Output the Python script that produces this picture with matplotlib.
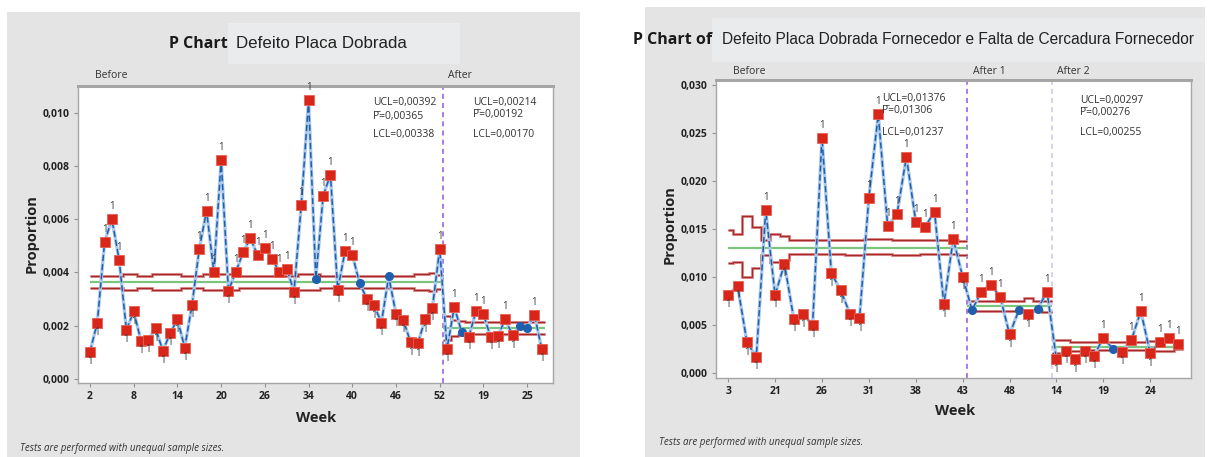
import numpy as np
import matplotlib
matplotlib.use('Agg')
import matplotlib.pyplot as plt
from matplotlib.patches import Rectangle

W, H = 1213, 457

# ---- weekly proportions, left chart ----
left_before = [0.00103, 0.00212, 0.00514, 0.00600, 0.00447, 0.00184, 0.00254, 0.00143, 0.00147, 0.00190,
               0.00106, 0.00172, 0.00224, 0.00118, 0.00278, 0.00489, 0.00632, 0.00401, 0.00822, 0.00332,
               0.00401, 0.00475, 0.00528, 0.00466, 0.00491, 0.00451, 0.00401, 0.00414, 0.00328, 0.00654,
               0.01046, 0.00376, 0.00688, 0.00767, 0.00335, 0.00479, 0.00467, 0.00360, 0.00301, 0.00276,
               0.00212, 0.00385, 0.00244, 0.00222, 0.00138, 0.00134, 0.00224, 0.00268, 0.00489]
left_after = [0.00113, 0.00270, 0.00178, 0.00159, 0.00256, 0.00243, 0.00157, 0.00163, 0.00224, 0.00164,
              0.00199, 0.00191, 0.00242, 0.00113]

# control limits per subgroup (unequal sample sizes)
left_before_ucl = [0.00388, 0.00388, 0.00388, 0.00388, 0.00388, 0.00394, 0.00394, 0.00388, 0.00388, 0.00394,
                   0.00394, 0.00394, 0.00394, 0.00388, 0.00388, 0.00388, 0.00396, 0.00396, 0.00396, 0.00396,
                   0.00396, 0.00388, 0.00388, 0.00388, 0.00388, 0.00388, 0.00388, 0.00388, 0.00388, 0.00394,
                   0.00394, 0.00394, 0.00388, 0.00388, 0.00388, 0.00388, 0.00388, 0.00388, 0.00388, 0.00388,
                   0.00388, 0.00388, 0.00388, 0.00388, 0.00388, 0.00394, 0.00394, 0.00398, 0.00392]
left_before_lcl = [0.00342, 0.00342, 0.00342, 0.00342, 0.00342, 0.00336, 0.00336, 0.00342, 0.00342, 0.00336,
                   0.00336, 0.00336, 0.00336, 0.00342, 0.00342, 0.00342, 0.00334, 0.00334, 0.00334, 0.00334,
                   0.00334, 0.00342, 0.00342, 0.00342, 0.00342, 0.00342, 0.00342, 0.00342, 0.00342, 0.00336,
                   0.00336, 0.00336, 0.00342, 0.00342, 0.00342, 0.00342, 0.00342, 0.00342, 0.00342, 0.00342,
                   0.00342, 0.00342, 0.00342, 0.00342, 0.00342, 0.00336, 0.00336, 0.00332, 0.00338]
left_after_ucl = [0.00237, 0.00222, 0.00218, 0.00214, 0.00214, 0.00214, 0.00214, 0.00214, 0.00214, 0.00214,
                  0.00214, 0.00214, 0.00214, 0.00214]
left_after_lcl = [0.00147, 0.00162, 0.00166, 0.00170, 0.00170, 0.00170, 0.00170, 0.00170, 0.00170, 0.00170,
                  0.00170, 0.00170, 0.00170, 0.00170]

left_stats = {'Before': (0.00392, 0.00365, 0.00338), 'After': (0.00214, 0.00192, 0.00170)}
left_ticks = ['2', '8', '14', '20', '26', '34', '40', '46', '52', '19', '25']
left_yticks = [0.000, 0.002, 0.004, 0.006, 0.008, 0.010]

# ---- weekly proportions, right chart ----
right_before = [0.00816, 0.00913, 0.00323, 0.00173, 0.01700, 0.00816, 0.01139, 0.00566, 0.00614, 0.00503,
                0.02455, 0.01042, 0.00864, 0.00616, 0.00573, 0.01829, 0.02698, 0.01538, 0.01656, 0.02256,
                0.01580, 0.01527, 0.01684, 0.00719, 0.01399, 0.01006]
right_after1 = [0.00659, 0.00850, 0.00923, 0.00798, 0.00406, 0.00659, 0.00614, 0.00670, 0.00850]
right_after2 = [0.00146, 0.00236, 0.00146, 0.00232, 0.00180, 0.00371, 0.00257, 0.00225, 0.00347, 0.00649,
                0.00208, 0.00329, 0.00371, 0.00305]

right_before_ucl = [0.01494, 0.01450, 0.01640, 0.01528, 0.01389, 0.01450, 0.01430, 0.01392, 0.01392, 0.01392,
                    0.01392, 0.01392, 0.01392, 0.01392, 0.01392, 0.01395, 0.01395, 0.01395, 0.01392, 0.01392,
                    0.01392, 0.01392, 0.01392, 0.01392, 0.01392, 0.01376]
right_before_lcl = [0.01152, 0.01160, 0.01007, 0.01094, 0.01232, 0.01160, 0.01180, 0.01243, 0.01243, 0.01243,
                    0.01243, 0.01243, 0.01243, 0.01230, 0.01230, 0.01243, 0.01243, 0.01243, 0.01230, 0.01230,
                    0.01230, 0.01243, 0.01243, 0.01243, 0.01243, 0.01237]
right_after1_ucl = [0.00756, 0.00756, 0.00756, 0.00756, 0.00756, 0.00756, 0.00788, 0.00756, 0.00756]
right_after1_lcl = [0.00648, 0.00648, 0.00648, 0.00648, 0.00648, 0.00648, 0.00648, 0.00648, 0.00636]
right_after2_ucl = [0.00347, 0.00347, 0.00325, 0.00325, 0.00322, 0.00322, 0.00322, 0.00322, 0.00322, 0.00322,
                    0.00335, 0.00335, 0.00335, 0.00297]
right_after2_lcl = [0.00210, 0.00215, 0.00232, 0.00232, 0.00240, 0.00240, 0.00240, 0.00240, 0.00240, 0.00240,
                    0.00236, 0.00236, 0.00236, 0.00255]

right_stats = {'Before': (0.01376, 0.01306, 0.01237), 'After 1': (0.00756, 0.00701, 0.00648),
               'After 2': (0.00297, 0.00276, 0.00255)}
right_ticks = ['3', '21', '26', '31', '38', '43', '48', '14', '19', '24']
right_yticks = [0.000, 0.005, 0.010, 0.015, 0.020, 0.025, 0.030]

RED = '#d8261a'
BLUE = '#1f5fb0'
LIMIT = '#a8282a'
LIMIT_LIGHT = '#e2a0a0'
GREEN = '#7cc47c'
PANEL = '#e4e4e4'
UI = ['Open Sans', 'DejaVu Sans']


def fx(px):
    return px / W


def fy(py):
    return 1 - py / H


def fig_box(fig, x0, y0, x1, y1, color):
    fig.patches.append(Rectangle((fx(x0), fy(y1)), fx(x1) - fx(x0), fy(y0) - fy(y1),
                                 transform=fig.transFigure, facecolor=color,
                                 edgecolor='none', zorder=-5))


def fmt(v, nd):
    return f'{v:.{nd}f}'.replace('.', ',')


def draw_pchart(ax, stages, tick_labels, tick_step, yticks, ydec):
    start = 0
    all_vals = []
    for name, vals, ucl, lcl, stats, split_color in stages:
        n = len(vals)
        idx = np.arange(start, start + n)
        edges = np.arange(n + 1) + start - 0.5
        if start == 0:
            edges[0] = 0
        ax.stairs(ucl, edges, baseline=None, color=LIMIT_LIGHT, lw=2.2, zorder=2)
        ax.stairs(ucl, edges, baseline=None, color=LIMIT, lw=1.0, zorder=2)
        ax.stairs(lcl, edges, baseline=None, color=LIMIT_LIGHT, lw=2.2, zorder=2)
        ax.stairs(lcl, edges, baseline=None, color=LIMIT, lw=1.0, zorder=2)
        ax.hlines(stats[1], edges[0], edges[-1], color=GREEN, lw=1.6, zorder=2)
        if split_color:
            ax.axvline(start - 0.5, color=split_color, lw=1.2, ls=(0, (3, 2.5)), zorder=1)
        all_vals.append((idx, vals, stats))
        start += n

    xs = np.concatenate([a[0] for a in all_vals])
    ys = np.concatenate([a[1] for a in all_vals])
    ax.plot(xs, ys, color='#a9c8ea', lw=2.4, zorder=3)
    ax.plot(xs, ys, color=BLUE, lw=1.1, ls=(0, (4, 2)), zorder=3)

    for idx, vals, (ucl_n, center, lcl_n) in all_vals:
        for i, v in zip(idx, vals):
            if v > ucl_n or v < lcl_n:
                ax.plot(i, v, 's', ms=7, color=RED, mec='#e86050', mew=0.6, zorder=4)
                dy = 5 if v > ucl_n else -11
                ax.annotate('1', (i, v), xytext=(0, dy), textcoords='offset points',
                            ha='center', va='bottom', fontsize=7, color='#3a3a3a',
                            family=UI, zorder=5)
            else:
                ax.plot(i, v, 'o', ms=5.5, color=BLUE, zorder=4)

    ax.set_xticks(np.arange(len(tick_labels)) * tick_step)
    ax.set_xticklabels(tick_labels)
    ax.set_yticks(yticks)
    ax.set_yticklabels([fmt(t, ydec) for t in yticks])
    for lab in ax.get_xticklabels() + ax.get_yticklabels():
        lab.set_family(UI)
        lab.set_fontweight('bold')
    ax.tick_params(length=3, width=0.8, color='#909090', labelsize=7.5,
                   labelcolor='#222222', pad=3)
    for s in ax.spines.values():
        s.set_color('#a6a6a6')
        s.set_linewidth(1.0)
    ax.spines['top'].set_linewidth(2.2)
    ax.set_facecolor('white')
    ax.set_zorder(2)


fig = plt.figure(figsize=(W / 100, H / 100), dpi=100)

# ---------------- left chart ----------------
fig_box(fig, 7, 12, 580, 457, PANEL)
fig_box(fig, 228, 23, 460, 64, '#eaebec')
ax1 = fig.add_axes([fx(78), fy(383), fx(553) - fx(78), fy(86) - fy(383)])
draw_pchart(ax1,
            [('Before', left_before, left_before_ucl, left_before_lcl, left_stats['Before'], None),
             ('After', left_after, left_after_ucl, left_after_lcl, left_stats['After'], '#9a66e0')],
            left_ticks, 6, left_yticks, 3)
ax1.set_xlim(-1.65, 63.55)
ax1.set_ylim(-0.00015, 0.0110)

fig.text(fx(228), fy(44), 'P Chart', ha='right', va='center', fontsize=11.5,
         fontweight='bold', family=UI, color='#1a1a1a')
fig.text(fx(236), fy(44), 'Defeito Placa Dobrada', ha='left', va='center', fontsize=12.2,
         family='Liberation Sans', color='#222222')
fig.text(fx(95), fy(76), 'Before', ha='left', va='center', fontsize=7.5, family=UI, color='#333333')
fig.text(fx(448), fy(76), 'After', ha='left', va='center', fontsize=7.5, family=UI, color='#333333')
for (x0, y0), (u, p, l) in zip([(373, 103), (473, 102)], left_stats.values()):
    fig.text(fx(x0), fy(y0), f'UCL={fmt(u, 5)}', fontsize=7.5, family=UI, va='center', color='#333333', zorder=5)
    fig.text(fx(x0), fy(y0 + 13), f'P\u0304={fmt(p, 5)}', fontsize=7.5, family=UI, va='center', color='#333333', zorder=5)
    fig.text(fx(x0), fy(y0 + 32), f'LCL={fmt(l, 5)}', fontsize=7.5, family=UI, va='center', color='#333333', zorder=5)
fig.text(fx(32), fy(234), 'Proportion', rotation=90, ha='center', va='center', fontsize=10.5,
         fontweight='bold', family=UI, color='#222222')
fig.text(fx(316), fy(418), 'Week', ha='center', va='center', fontsize=10.5,
         fontweight='bold', family=UI, color='#222222')
fig.text(fx(20), fy(448), 'Tests are performed with unequal sample sizes.', ha='left', va='center',
         fontsize=7, style='italic', family=UI, color='#333333')

# ---------------- right chart ----------------
fig_box(fig, 645, 7, 1205, 457, PANEL)
fig_box(fig, 712, 18, 1205, 62, '#eaebec')
ax2 = fig.add_axes([fx(716), fy(377.7), fx(1191) - fx(716), fy(80) - fy(377.7)])
draw_pchart(ax2,
            [('Before', right_before, right_before_ucl, right_before_lcl, right_stats['Before'], None),
             ('After 1', right_after1, right_after1_ucl, right_after1_lcl, right_stats['After 1'], '#9a66e0'),
             ('After 2', right_after2, right_after2_ucl, right_after2_lcl, right_stats['After 2'], '#d2c6f2')],
            right_ticks, 5, right_yticks, 3)
ax2.set_xlim(-1.3, 49.35)
ax2.set_ylim(-0.00046, 0.03055)

fig.text(fx(712), fy(40), 'P Chart of', ha='right', va='center', fontsize=11.5,
         fontweight='bold', family=UI, color='#1a1a1a')
fig.text(fx(722), fy(40), 'Defeito Placa Dobrada Fornecedor e Falta de Cercadura Fornecedor',
         ha='left', va='center', fontsize=11.2, family='Liberation Sans', color='#222222')
fig.text(fx(733), fy(71), 'Before', ha='left', va='center', fontsize=7.5, family=UI, color='#333333')
fig.text(fx(973), fy(71), 'After 1', ha='left', va='center', fontsize=7.5, family=UI, color='#333333')
fig.text(fx(1057), fy(71), 'After 2', ha='left', va='center', fontsize=7.5, family=UI, color='#333333')
for key, (x0, y0) in [('Before', (882, 99)), ('After 2', (1080, 100))]:
    u, p, l = right_stats[key]
    fig.text(fx(x0), fy(y0), f'UCL={fmt(u, 5)}', fontsize=7.5, family=UI, va='center', color='#333333', zorder=5)
    fig.text(fx(x0), fy(y0 + 12), f'P\u0304={fmt(p, 5)}', fontsize=7.5, family=UI, va='center', color='#333333', zorder=5)
    fig.text(fx(x0), fy(y0 + 33), f'LCL={fmt(l, 5)}', fontsize=7.5, family=UI, va='center', color='#333333', zorder=5)
fig.text(fx(670), fy(225), 'Proportion', rotation=90, ha='center', va='center', fontsize=10.5,
         fontweight='bold', family=UI, color='#222222')
fig.text(fx(955), fy(411), 'Week', ha='center', va='center', fontsize=10.5,
         fontweight='bold', family=UI, color='#222222')
fig.text(fx(659), fy(442), 'Tests are performed with unequal sample sizes.', ha='left', va='center',
         fontsize=7, style='italic', family=UI, color='#333333')

fig.savefig('out.png', dpi=100, facecolor='white')
